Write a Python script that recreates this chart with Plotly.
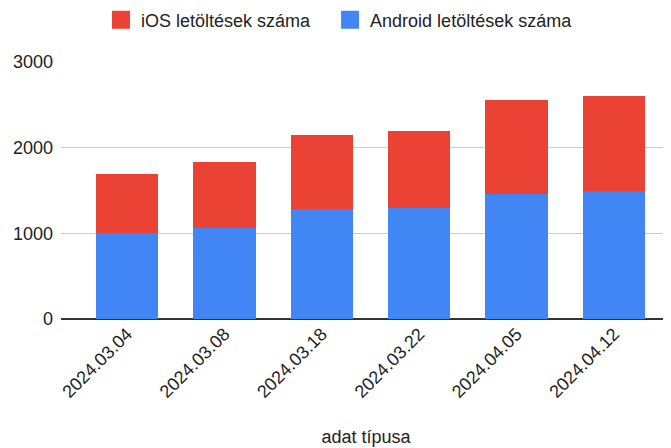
import plotly.graph_objects as go

dates = ["2024.03.04", "2024.03.08", "2024.03.18", "2024.03.22", "2024.04.05", "2024.04.12"]
android = [1000, 1065, 1280, 1300, 1460, 1490]
ios = [690, 765, 870, 900, 1100, 1110]
y_ticks = [0, 1000, 2000, 3000]

ANDROID_NAME = "Android letöltések száma"
IOS_NAME = "iOS letöltések száma"
BLUE = "#4285F4"
RED = "#EA4335"
FONT = "Liberation Sans, Arial, sans-serif"

fig = go.Figure()
fig.add_trace(go.Bar(x=dates, y=android, name=ANDROID_NAME, showlegend=False,
                     marker=dict(color=BLUE, line=dict(width=0))))
fig.add_trace(go.Bar(x=dates, y=ios, name=IOS_NAME, showlegend=False,
                     marker=dict(color=RED, line=dict(width=0))))
# legend-only entries (larger square swatches, no marks drawn)
fig.add_trace(go.Scatter(x=[None], y=[None], mode="markers", name=IOS_NAME + "\u00a0\u00a0\u00a0",
                         marker=dict(symbol="square", size=16, color=RED,
                                     line=dict(width=2, color=RED))))
fig.add_trace(go.Scatter(x=[None], y=[None], mode="markers", name=ANDROID_NAME,
                         marker=dict(symbol="square", size=16, color=BLUE,
                                     line=dict(width=2, color=BLUE))))

# the page body has an 8px default margin, so offsets are compensated here
fig.update_layout(
    barmode="stack",
    bargap=0.36,
    width=671, height=448,
    margin=dict(l=53, r=8, t=54, b=137, autoexpand=False),
    plot_bgcolor="white", paper_bgcolor="white",
    font=dict(family=FONT, size=18, color="#222222"),
    legend=dict(orientation="h", traceorder="normal", itemsizing="trace",
                x=93 / 671, xref="container", xanchor="left",
                y=1.163, yref="paper", yanchor="middle",
                font=dict(size=18)),
    xaxis=dict(type="category", range=[-0.678, 5.585], tickangle=-45,
               title=dict(text="adat típusa", standoff=29, font=dict(size=18)),
               showgrid=False, showline=False, ticks="", tickfont=dict(size=18)),
    yaxis=dict(range=[0, 3000], tickvals=y_ticks, showgrid=True, gridcolor="#cccccc",
               zeroline=True, zerolinecolor="#333333", zerolinewidth=2,
               ticks="", ticklabelstandoff=7, tickfont=dict(size=18)),
)
fig.write_html("out.html")
